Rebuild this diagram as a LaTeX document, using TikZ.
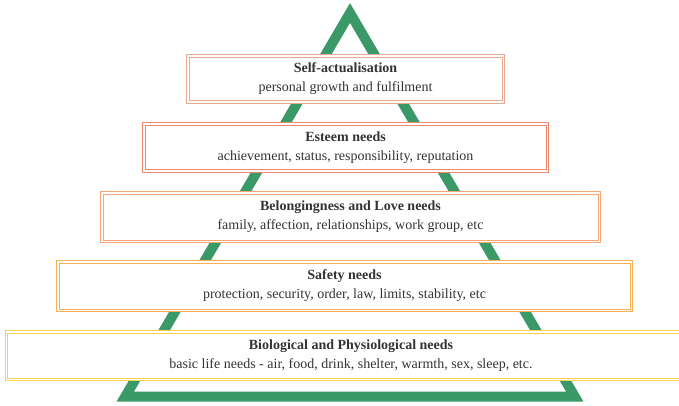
\documentclass[tikz,border=0pt]{standalone}
\usepackage{fontspec}
\setmainfont{Liberation Serif}
\usepackage{tikz}

\definecolor{pyrgreen}{HTML}{3A9966}
\definecolor{lvlone}{HTML}{E9A891}
\definecolor{lvltwo}{HTML}{F0876A}
\definecolor{lvlthree}{HTML}{F6A676}
\definecolor{lvlfour}{HTML}{FAAF52}
\definecolor{lvlfive}{HTML}{F8D24A}
\definecolor{txtgray}{HTML}{333333}

\begin{document}
\begin{tikzpicture} [x=1pt,y=-1pt,
  level/.style={draw=#1, line width=0.9pt, fill=white, align=center,
    text=txtgray, inner sep=0pt, font=\fontsize{14}{19}\selectfont},
  innerline/.style={draw=#1, line width=0.9pt},
  pyramid/.style={draw=pyrgreen, line width=10pt, line join=miter}]

\useasboundingbox (0,0) rectangle (679,406);

\coordinate (apex) at (350,13);
\coordinate (bl) at (125.3,396.5);
\coordinate (br) at (574.7,396.5);

\draw[pyramid] (apex)--(bl)--(br)--cycle;

\node[level=lvlone, minimum width=318, minimum height=49] (self) at (345.5,79)
  {\textbf{Self-actualisation}\\personal growth and fulfilment};
\node[level=lvltwo, minimum width=406, minimum height=50] (esteem) at (345.5,147.5)
  {\textbf{Esteem needs}\\achievement, status, responsibility, reputation};
\node[level=lvlthree, minimum width=500, minimum height=51] (love) at (350.5,217)
  {\textbf{Belongingness and Love needs}\\family, affection, relationships, work group, etc};
\node[level=lvlfour, minimum width=576, minimum height=51] (safety) at (344.5,286)
  {\textbf{Safety needs}\\protection, security, order, law, limits, stability, etc};
\node[level=lvlfive, minimum width=692, minimum height=50] (bio) at (351,355.5)
  {\textbf{Biological and Physiological needs}\\basic life needs - air, food, drink, shelter, warmth, sex, sleep, etc.};

% inner frame of each box
\foreach \n/\c in {self/lvlone,esteem/lvltwo,love/lvlthree,safety/lvlfour,bio/lvlfive}
  \draw[innerline=\c] ([shift={(3,3)}]\n.north west) rectangle ([shift={(-3,-3)}]\n.south east);

\end{tikzpicture}
\end{document}
